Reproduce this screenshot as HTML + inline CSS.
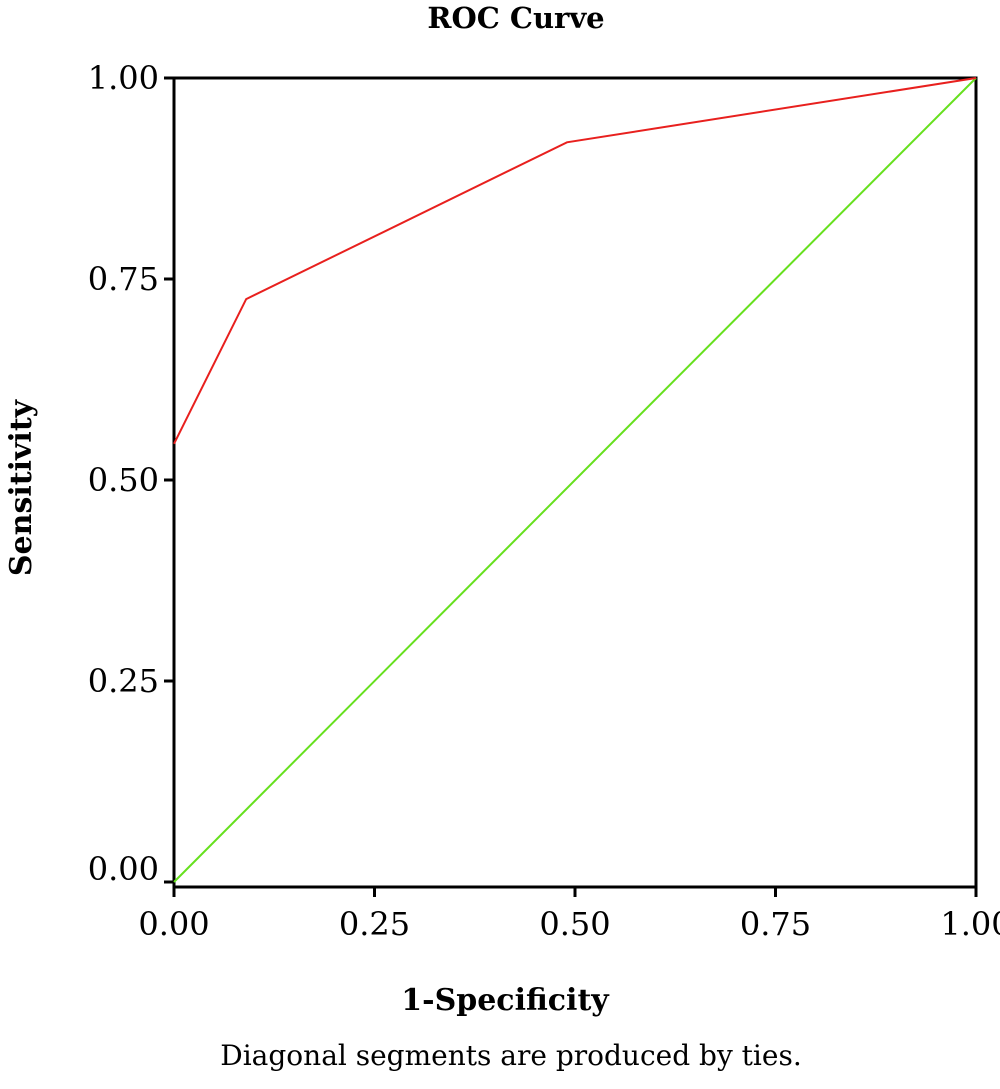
<!DOCTYPE html>
<html><head><meta charset="utf-8"><style>
body{margin:0;background:#fff;}
svg{display:block;font-family:"DejaVu Serif","Liberation Serif",serif;}
</style></head><body>
<svg width="1000" height="1089" viewBox="0 0 1000 1089">
<text x="516" y="28" text-anchor="middle" font-size="29" font-weight="bold">ROC Curve</text>
<rect x="174" y="78" width="802" height="809" fill="none" stroke="#000" stroke-width="3"/>
<g id="ticks"></g>
<g id="series"></g>
<text x="31" y="488" text-anchor="middle" font-size="30" font-weight="bold" transform="rotate(-90 31 488)">Sensitivity</text>
<text x="505" y="1010" text-anchor="middle" font-size="30" font-weight="bold">1-Specificity</text>
<text x="511" y="1065" text-anchor="middle" font-size="28">Diagonal segments are produced by ties.</text>
</svg>
<script>
const ticks=[0,0.25,0.5,0.75,1];
const tickLabels=["0.00","0.25","0.50","0.75","1.00"];
const rocX=[0,0.09,0.49,1];
const rocY=[0.545,0.725,0.92,1];
const refX=[0,1];
const refY=[0,1];
const X0=174,X1=976,Y0=882,Y1=78;
const sx=v=>X0+v*(X1-X0);
const sy=v=>Y0+v*(Y1-Y0);
const NS="http://www.w3.org/2000/svg";
const tg=document.getElementById('ticks');
ticks.forEach((t,i)=>{
  let l=document.createElementNS(NS,'line');
  l.setAttribute('x1',X0-10);l.setAttribute('x2',X0);l.setAttribute('y1',sy(t));l.setAttribute('y2',sy(t));
  l.setAttribute('stroke','#000');l.setAttribute('stroke-width','3');
  
  
  tg.appendChild(l);
  let tx=document.createElementNS(NS,'text');
  tx.setAttribute('x',X0-15);tx.setAttribute('y',sy(t)+(t===0?-2:11));tx.setAttribute('text-anchor','end');tx.setAttribute('font-size','32');
  tx.textContent=tickLabels[i];
  
  
  tg.appendChild(tx);
  let l2=document.createElementNS(NS,'line');
  l2.setAttribute('x1',sx(t));l2.setAttribute('x2',sx(t));l2.setAttribute('y1',887);l2.setAttribute('y2',897);
  l2.setAttribute('stroke','#000');l2.setAttribute('stroke-width','3');
  
  
  tg.appendChild(l2);
  let tx2=document.createElementNS(NS,'text');
  tx2.setAttribute('x',sx(t));tx2.setAttribute('y',935);tx2.setAttribute('text-anchor','middle');tx2.setAttribute('font-size','32');
  tx2.textContent=tickLabels[i];
  
  
  tg.appendChild(tx2);
});
const sg=document.getElementById('series');
function line(xs,ys,color,name){
  let p=document.createElementNS(NS,'polyline');
  p.setAttribute('points',xs.map((x,i)=>sx(x)+','+sy(ys[i])).join(' '));
  p.setAttribute('fill','none');p.setAttribute('stroke',color);p.setAttribute('stroke-width','2');
  
  
  sg.appendChild(p);
}
line(refX,refY,'#66e01e','reference-line');
line(rocX,rocY,'#e8201e','roc-curve');
</script>
</body></html>
